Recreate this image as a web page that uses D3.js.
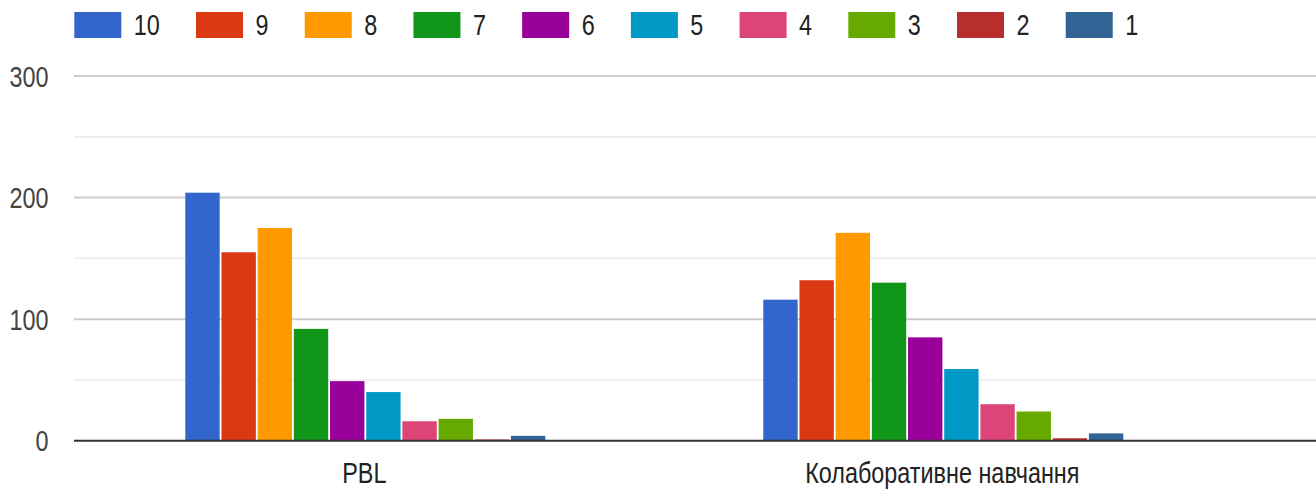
<!DOCTYPE html>
<html>
<head>
<meta charset="utf-8">
<script src="https://cdn.jsdelivr.net/npm/d3@7"></script>
<style>
  body { margin: 0; background: #fff; }
  text { font-family: "Liberation Sans", Arial, sans-serif; }
</style>
</head>
<body>
<div id="chart"></div>
<script>
// Chart data
var categories = ["PBL", "Колаборативне навчання"];
var seriesNames = ["10", "9", "8", "7", "6", "5", "4", "3", "2", "1"];
var pblValues = [204, 155, 175, 92, 49, 40, 16, 18, 1, 4];
var kolabValues = [116, 132, 171, 130, 85, 59, 30, 24, 2, 6];
var yTicks = [0, 100, 200, 300];
var colors = ["#3366cc", "#dc3912", "#ff9900", "#109618", "#990099",
              "#0099c6", "#dd4477", "#66aa00", "#b82e2e", "#316395"];

var svgWidth = 1316;
var svgHeight = 491;
var fontSize = 23.4;
var stretch = 1.24;   // text in the picture is drawn taller than wide

var svg = d3.select("#chart")
    .append("svg")
    .attr("width", svgWidth)
    .attr("height", svgHeight);

var table = categories.map(function(c, i) {
    return { name: c, values: [pblValues, kolabValues][i] };
});

// Scales
var yScale = d3.scaleLinear()
    .domain([0, 300])
    .range([440.7, 76]);

var x0 = d3.scaleBand()
    .domain(categories)
    .range([75.3, 1231.3]);

var x1 = d3.scaleBand()
    .domain(seriesNames)
    .range([-179, 181])
    .paddingInner(0.05);

// Gridlines (major + minor)
var minor = d3.range(50, 300, 100);
svg.append("g").selectAll("line")
    .data(minor)
    .enter()
    .append("line")
    .attr("x1", 74).attr("x2", svgWidth)
    .attr("y1", d => yScale(d)).attr("y2", d => yScale(d))
    .attr("stroke", "#ebebeb")
    .attr("stroke-width", 1.5);

svg.append("g").selectAll("line")
    .data(yTicks.slice(1))
    .enter()
    .append("line")
    .attr("x1", 74).attr("x2", svgWidth)
    .attr("y1", d => yScale(d)).attr("y2", d => yScale(d))
    .attr("stroke", "#cccccc")
    .attr("stroke-width", 2);

// Y tick labels
svg.append("g").selectAll("text")
    .data(yTicks)
    .enter()
    .append("text")
    .attr("transform", d => `translate(48.5, ${yScale(d) + 10.6}) scale(1, ${stretch})`)
    .attr("text-anchor", "end")
    .attr("font-size", fontSize)
    .attr("fill", "#444")
    .text(d => d);

// Bars
var groups = svg.append("g").selectAll("g")
    .data(table)
    .enter()
    .append("g")
    .attr("transform", d => `translate(${x0(d.name) + x0.bandwidth() / 2}, 0)`);

groups.selectAll("rect")
    .data(d => d.values.map((v, i) => ({ key: seriesNames[i], value: v, color: colors[i] })))
    .enter()
    .append("rect")
    .attr("x", d => x1(d.key))
    .attr("y", d => yScale(d.value))
    .attr("width", x1.bandwidth())
    .attr("height", d => yScale(0) - yScale(d.value))
    .attr("fill", d => d.color);

// Baseline
svg.append("line")
    .attr("x1", 74).attr("x2", svgWidth)
    .attr("y1", yScale(0)).attr("y2", yScale(0))
    .attr("stroke", "#333")
    .attr("stroke-width", 2);

// Category labels
svg.append("g").selectAll("text")
    .data(categories)
    .enter()
    .append("text")
    .attr("transform", d => `translate(${x0(d) + x0.bandwidth() / 2}, 483.3) scale(1, ${stretch})`)
    .attr("text-anchor", "middle")
    .attr("font-size", fontSize)
    .attr("fill", "#222")
    .text(d => d);

// Legend
var legend = svg.append("g");
var lx = 74.3;
seriesNames.forEach(function(name, i) {
    legend.append("rect")
        .attr("x", lx)
        .attr("y", 12)
        .attr("width", 47)
        .attr("height", 26)
        .attr("fill", colors[i]);
    var t = legend.append("text")
        .attr("transform", `translate(${lx + 59.5}, 35) scale(1, ${stretch})`)
        .attr("font-size", fontSize)
        .attr("fill", "#222")
        .text(name);
    lx = lx + 59.5 + t.node().getComputedTextLength() + 36.2;
});
</script>
</body>
</html>
